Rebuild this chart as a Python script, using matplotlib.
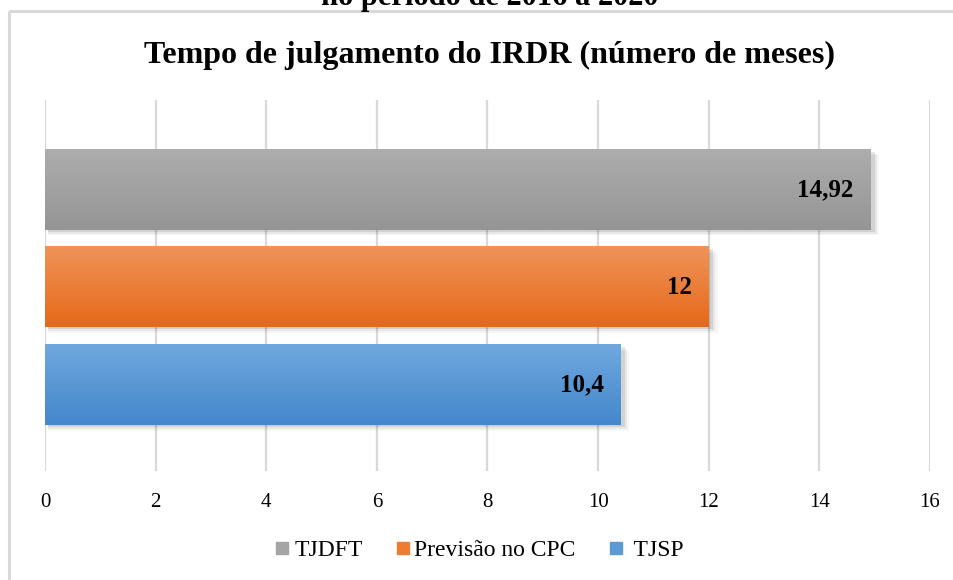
import matplotlib
matplotlib.use("Agg")
import matplotlib.pyplot as plt
import numpy as np
from matplotlib.colors import LinearSegmentedColormap
from matplotlib.patches import Rectangle

plt.rcParams['font.family'] = ['Liberation Serif', 'DejaVu Serif']

# data, bottom to top
categories = ["TJSP", "Previsão no CPC", "TJDFT"]
values = [10.4, 12, 14.92]
value_labels = ["10,4", "12", "14,92"]
top_colors = ["#6fa8de", "#f09359", "#adadad"]
bottom_colors = ["#4487cb", "#e5691a", "#959595"]
legend_colors = ["#5b9bd5", "#ed7d31", "#a5a5a5"]
xticks = [0, 2, 4, 6, 8, 10, 12, 14, 16]

W, H = 954, 580
fig = plt.figure(figsize=(W / 100, H / 100), dpi=100)

# outer chart frame: only top and left edges are inside the picture
frame_x, frame_y = 9 / W, 1 - 11 / H
fig.add_artist(plt.Line2D([frame_x, 1.05], [frame_y, frame_y],
                          transform=fig.transFigure, color="#d9d9d9",
                          linewidth=2.2, solid_capstyle="butt"))
fig.add_artist(plt.Line2D([frame_x, frame_x], [-0.05, frame_y],
                          transform=fig.transFigure, color="#d9d9d9",
                          linewidth=2.2, solid_capstyle="butt"))

# clipped caption from the page above the chart
fig.text(0.513, 1 - 5 / H, "no período de 2016 a 2020", ha="center",
         va="baseline", fontsize=22, fontweight="bold")

fig.text(0.513, 1 - 55 / H, "Tempo de julgamento do IRDR (número de meses)",
         ha="center", va="center", fontsize=23, fontweight="bold")

ax = fig.add_axes([45 / W, 1 - 471 / H, (930 - 45) / W, (471 - 100) / H])
for s in ax.spines.values():
    s.set_visible(False)
ax.set_yticks([])
ax.set_xticks(xticks)
ax.set_xticklabels([str(t) for t in xticks], fontsize=15)
ax.tick_params(axis="x", length=0, pad=16)
ax.grid(axis="x", color="#d9d9d9", linewidth=1.6)
ax.set_axisbelow(True)

bar_h = 0.82
grad = np.linspace(0, 1, 64).reshape(-1, 1)
for i, (cat, v) in enumerate(zip(categories, values)):
    y0 = i - bar_h / 2
    # soft shadow
    for k, a in enumerate([0.09, 0.06, 0.035]):
        off = 0.02 + k * 0.018
        ax.add_patch(Rectangle((0.05, y0 - off), v + 0.03 + k * 0.04, bar_h,
                               facecolor="black", alpha=a, linewidth=0,
                               zorder=2))
    cmap = LinearSegmentedColormap.from_list(cat, [bottom_colors[i], top_colors[i]])
    ax.imshow(grad, cmap=cmap, aspect="auto", origin="lower",
              extent=[0, v, y0, y0 + bar_h], zorder=3)
    ax.text(v - 0.3, i, value_labels[i], ha="right", va="center",
            fontsize=18, fontweight="bold", zorder=4)
ax.set_xlim(0, 16)
ax.set_ylim(-0.88, 2.92)

# legend
handles = [plt.Line2D([], [], marker="s", linestyle="none", markersize=9,
                      color=legend_colors[i]) for i in (2, 1, 0)]
labels = [categories[i] for i in (2, 1, 0)]
labels[2] = " " + labels[2]
fig.legend(handles, labels, loc="center", bbox_to_anchor=(0.5, 1 - 550 / H),
           ncol=3, frameon=False, fontsize=17, handletextpad=0.0,
           columnspacing=1.2, handlelength=1.0)

fig.savefig("out.png", dpi=100)
